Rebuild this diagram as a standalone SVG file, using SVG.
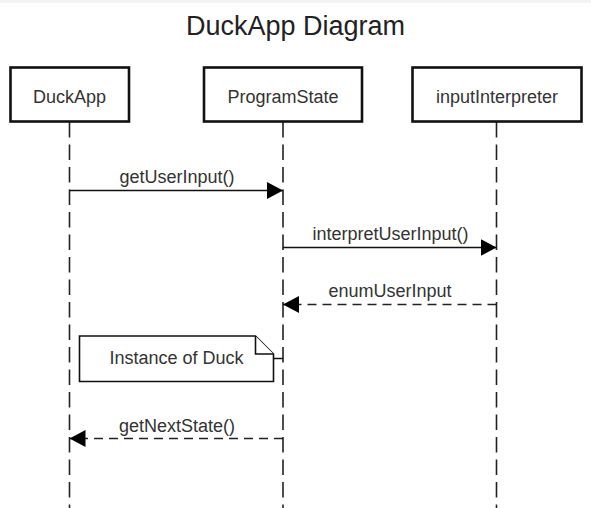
<svg xmlns="http://www.w3.org/2000/svg" width="591" height="508" viewBox="0 0 591 508">
  <style>
    .box { fill: #ffffff; stroke: #111111; stroke-width: 2.6; }
    .lbl { font-family: "Liberation Sans", Arial, sans-serif; font-size: 18px; fill: #333333; text-anchor: middle; }
    .title { font-family: "Liberation Sans", Arial, sans-serif; font-size: 27px; fill: #222222; text-anchor: middle; }
    .life { stroke: #222222; stroke-width: 1.6; stroke-dasharray: 15.5 7; fill: none; }
    .msg { stroke: #111111; stroke-width: 1.5; fill: none; }
    .ret { stroke: #222222; stroke-width: 1.5; fill: none; stroke-dasharray: 9 6; }
    .note { fill: #ffffff; stroke: #111111; stroke-width: 1.6; stroke-linejoin: miter; }
  </style>
  <defs>
    <marker id="arrow" viewBox="0 0 16 17" refX="16" refY="8.5" markerWidth="16" markerHeight="17" markerUnits="userSpaceOnUse" orient="auto">
      <path d="M0,0 L16,8.5 L0,17 z" fill="#000000"/>
    </marker>
  </defs>
  <rect x="0" y="0" width="591" height="3" fill="#f3f3f3"/>
  <rect x="0" y="3" width="591" height="505" fill="#ffffff"/>
  <text class="title" x="295.5" y="34.5">DuckApp Diagram</text>

  <g id="lifelines">
    <line class="life" x1="69.5" y1="122" x2="69.5" y2="508"/>
    <line class="life" x1="283" y1="122" x2="283" y2="508"/>
    <line class="life" x1="496.5" y1="122" x2="496.5" y2="508"/>
  </g>

  <g id="node-duckapp">
    <rect class="box" x="10.5" y="67.5" width="118.5" height="54"/>
    <text class="lbl" x="69.5" y="103">DuckApp</text>
  </g>
  <g id="node-programstate">
    <rect class="box" x="204" y="67.5" width="158" height="54"/>
    <text class="lbl" x="283" y="103">ProgramState</text>
  </g>
  <g id="node-inputinterpreter">
    <rect class="box" x="412.5" y="67.5" width="169" height="54"/>
    <text class="lbl" x="497" y="103">inputInterpreter</text>
  </g>

  <g id="node-note">
    <path class="note" d="M79.5,336 L255.5,336 L273.5,354 L273.5,381.5 L79.5,381.5 Z"/>
    <path class="note" d="M255.5,336 L255.5,354 L273.5,354" fill="none"/>
    <text class="lbl" x="176.5" y="363.5">Instance of Duck</text>
  </g>

  <g id="connectors">
    <line class="msg" x1="69.5" y1="190.5" x2="283" y2="190.5" marker-end="url(#arrow)"/>
    <text class="lbl" x="177" y="182.5">getUserInput()</text>

    <line class="msg" x1="283" y1="247.5" x2="496.5" y2="247.5" marker-end="url(#arrow)"/>
    <text class="lbl" x="390.5" y="239.5">interpretUserInput()</text>

    <line class="ret" x1="496.5" y1="304.5" x2="283" y2="304.5" marker-end="url(#arrow)"/>
    <text class="lbl" x="390" y="296.5">enumUserInput</text>

    <line class="msg" x1="273.5" y1="358.5" x2="283" y2="358.5"/>

    <line class="ret" x1="283" y1="438.5" x2="69.5" y2="438.5" marker-end="url(#arrow)"/>
    <text class="lbl" x="177" y="431.5">getNextState()</text>
  </g>
</svg>
